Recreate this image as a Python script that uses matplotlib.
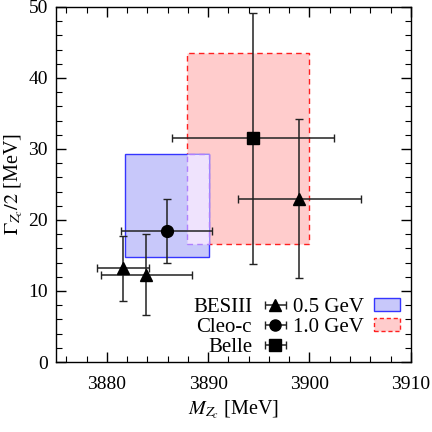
import numpy as np
import matplotlib
matplotlib.use("Agg")
import matplotlib.pyplot as plt
from matplotlib.patches import Rectangle
from matplotlib.ticker import MultipleLocator

plt.rcParams['font.family'] = ['Liberation Serif', 'DejaVu Serif']
plt.rcParams['mathtext.fontset'] = 'stix'
plt.rcParams['font.size'] = 14

# BESIII
bes_m = [3881.6, 3883.9, 3899.0]
bes_g = [13.2, 12.3, 23.0]
bes_merr = [2.6, 4.5, 6.1]
bes_gerr = [4.6, 5.7, 11.2]
# Cleo-c
cleo_m = [3885.9]
cleo_g = [18.5]
cleo_merr = [4.5]
cleo_gerr = [4.5]
# Belle
belle_m = [3894.4]
belle_g = [31.5]
belle_merr = [8.0]
belle_gerr = [17.7]

# boxes: (xmin, xmax, ymin, ymax)
box05 = (3881.8, 3890.1, 14.75, 29.25)
box10 = (3887.9, 3900.0, 16.6, 43.5)

fig = plt.figure(figsize=(4.32, 4.32), dpi=100)
ax = fig.add_axes([0.130, 0.162, 0.821, 0.822])

blue_fill = '#c8c8fa'
blue_edge = '#3535ff'
pink_fill = '#ffcccc'
pink_edge = '#ff2020'
ov_fill = '#efe3fd'
ov_edge = '#b080ff'

ax.add_patch(Rectangle((box10[0], box10[2]), box10[1] - box10[0], box10[3] - box10[2],
                       facecolor=pink_fill, edgecolor=pink_edge, ls=(0, (4, 3)), lw=1.0, zorder=1))
ax.add_patch(Rectangle((box05[0], box05[2]), box05[1] - box05[0], box05[3] - box05[2],
                       facecolor=blue_fill, edgecolor=blue_edge, lw=1.0, zorder=1))
ox0, ox1 = max(box05[0], box10[0]), min(box05[1], box10[1])
oy0, oy1 = max(box05[2], box10[2]), min(box05[3], box10[3])
ax.add_patch(Rectangle((ox0, oy0), ox1 - ox0, oy1 - oy0,
                       facecolor=ov_fill, edgecolor=ov_edge, ls=(0, (4, 3)), lw=1.0, zorder=1.5))

ekw = dict(color='black', ecolor='#222222', elinewidth=1.1, capsize=3, capthick=1.0, ls='none', zorder=3)
ax.errorbar(bes_m, bes_g, xerr=bes_merr, yerr=bes_gerr, fmt='^', ms=8.5, **ekw)
ax.errorbar(cleo_m, cleo_g, xerr=cleo_merr, yerr=cleo_gerr, fmt='o', ms=8.5, **ekw)
ax.errorbar(belle_m, belle_g, xerr=belle_merr, yerr=belle_gerr, fmt='s', ms=8, **ekw)

# legend proxies
h1 = ax.errorbar([np.nan], [np.nan], xerr=[1], fmt='^', ms=8, **ekw)
h2 = ax.errorbar([np.nan], [np.nan], xerr=[1], fmt='o', ms=8, **ekw)
h3 = ax.errorbar([np.nan], [np.nan], xerr=[1], fmt='s', ms=8, **ekw)
p1 = Rectangle((0, 0), 1, 1, facecolor=blue_fill, edgecolor=blue_edge, lw=1.0)
p2 = Rectangle((0, 0), 1, 1, facecolor=pink_fill, edgecolor=pink_edge, ls=(0, (3, 2)), lw=1.0)
leg = ax.legend([h1, h2, h3, p1, p2], ['BESIII', 'Cleo-c', 'Belle', '0.5 GeV', '1.0 GeV'],
                ncol=2, markerfirst=False, frameon=False, loc='lower right',
                bbox_to_anchor=(1.005, -0.02), handlelength=1.25, handleheight=0.6,
                handletextpad=0.5, columnspacing=0.2, labelspacing=0.05,
                borderaxespad=0.2, fontsize=15)

ax.set_xlim(3875, 3910)
ax.set_ylim(0, 50)
ax.xaxis.set_major_locator(MultipleLocator(10))
ax.xaxis.set_minor_locator(MultipleLocator(2))
ax.yaxis.set_major_locator(MultipleLocator(10))
ax.yaxis.set_minor_locator(MultipleLocator(2))
ax.tick_params(which='both', direction='in', top=True, right=True)
ax.tick_params(which='major', length=7, width=1.0)
ax.tick_params(which='minor', length=4, width=0.8)
ax.tick_params(axis='x', pad=10)
ax.tick_params(axis='y', pad=6)
for s in ax.spines.values():
    s.set_linewidth(1.0)

ax.set_xlabel(r'$M_{Z_c}$ [MeV]', fontsize=14.5, labelpad=4)
ax.set_ylabel(r'$\Gamma_{Z_c}/2$ [MeV]', fontsize=14.5, labelpad=2)

fig.savefig('out.png', dpi=100)
